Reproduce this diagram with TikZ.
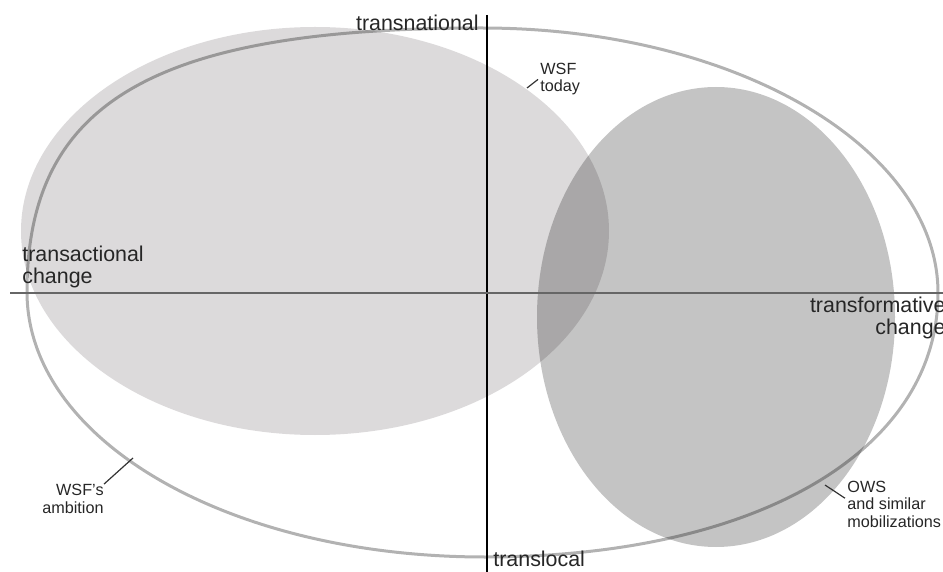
\documentclass[tikz,border=0pt]{standalone}
\usepackage{fontspec}
\setmainfont{Liberation Sans}
\usepackage{xcolor}
\definecolor{wsfgray}{RGB}{220,218,219}

\begin{document}
\begin{tikzpicture}[
    x=0.5pt,
    y=-0.5pt,
    wsftoday/.style={fill=wsfgray},
    ows/.style={fill=black, fill opacity=0.23},
    ambition/.style={draw=black, draw opacity=0.3, line width=1.5pt},
    axislabel/.style={inner sep=0, text=black!85,
        font=\fontsize{10.7}{11}\selectfont},
    smalllabel/.style={inner sep=0, text=black!85,
        font=\fontsize{8.1}{8.6}\selectfont},
    leader/.style={draw=black!80, line width=0.6pt}]

\useasboundingbox (0,0) rectangle (943,572);

% WSF today
\fill[wsftoday] (315,231) ellipse [x radius=294, y radius=204];

% OWS and similar mobilizations
\fill[ows] (716,317) ellipse [x radius=179, y radius=230];

% WSF's ambition
\draw[ambition] (27,292)
    .. controls (27,102) and (154,28) .. (482,28)
    .. controls (734,28) and (938,147) .. (938,293)
    .. controls (938,451) and (757,557) .. (485,557)
    .. controls (228,557) and (27,440) .. cycle;

% Axes
\coordinate (nat) at (487,15);
\coordinate (loc) at (487,572);
\coordinate (act) at (10,293);
\coordinate (form) at (943,293);
\draw[black, line width=0.6pt] (nat) -- (loc);
\draw[black!60, line width=0.9pt] (act) -- (form);

% Axis labels
\node[axislabel, anchor=base east] (transnational) at (479,31) {transnational};
\node[axislabel, anchor=base west] (translocal) at (493,566) {translocal};
\node[axislabel, anchor=base west, align=left] (transactional) at (22,284)
    {transactional\\change};
\node[axislabel, anchor=base east, align=right] (transformative) at (946,335)
    {transformative\\change};

% Small labels
\node[smalllabel, anchor=base west, align=left] (wsfnow) at (540,92)
    {WSF\\today};
\node[smalllabel, anchor=base east, align=right] (wsfamb) at (104,513)
    {WSF’s\\ambition};
\node[smalllabel, anchor=base west, align=left] (owslabel) at (847,527)
    {OWS\\and similar\\mobilizations};

% Leaders
\coordinate (nowtip) at (527,88);
\coordinate (ambtip) at (133,458);
\coordinate (owstip) at (825,485);
\draw[leader] (nowtip) -- ([xshift=-1pt]wsfnow.west);
\draw[leader] (wsfamb.north east) -- (ambtip);
\draw[leader] (owstip) -- ([shift={(-2,-6)}]owslabel.west);

\end{tikzpicture}
\end{document}
